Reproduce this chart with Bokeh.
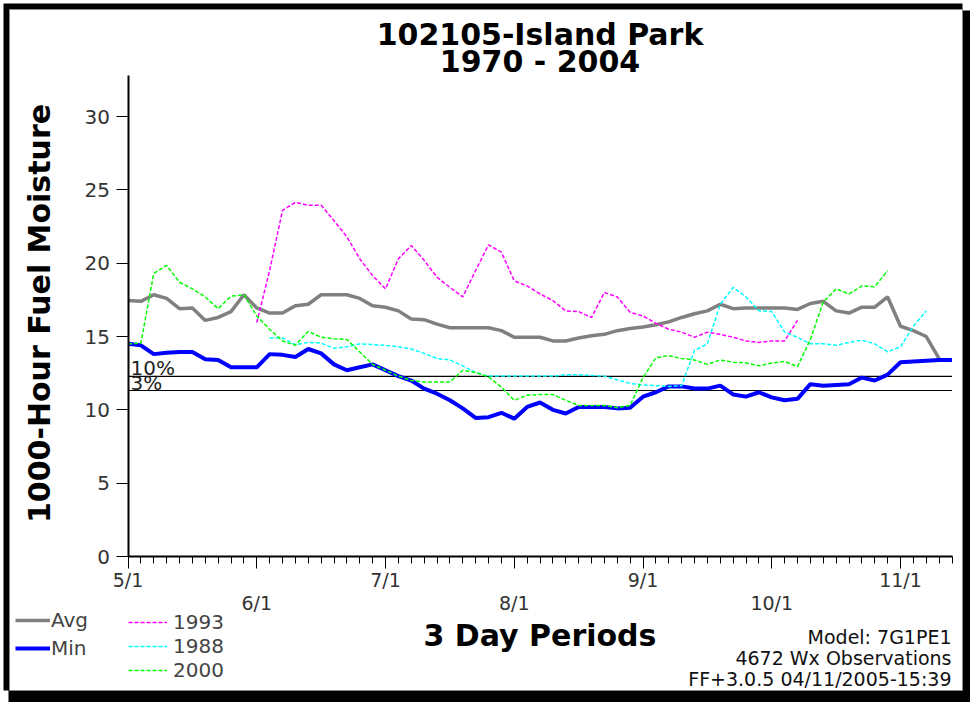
import math
from bokeh.plotting import figure
from bokeh.models import FixedTicker, LinearAxis, Label, Legend, LegendItem, BoxAnnotation
from bokeh.embed import file_html
from bokeh.resources import INLINE

# ---- data: 3-day periods starting 5/1 ----
periods = list(range(0, 65))
month_ticks = [0, 10, 20, 30, 40, 50, 60]
month_labels = ["5/1", "6/1", "7/1", "8/1", "9/1", "10/1", "11/1"]
y_ticks = [0, 5, 10, 15, 20, 25, 30]

avg = [17.45, 17.4, 17.85, 17.6, 16.9, 16.95, 16.1, 16.3, 16.7, 17.85,
       16.95, 16.6, 16.6, 17.1, 17.2, 17.85, 17.85, 17.85, 17.6, 17.1,
       17.0, 16.75, 16.2, 16.15, 15.85, 15.6, 15.6, 15.6, 15.6, 15.4,
       14.95, 14.95, 14.95, 14.7, 14.7, 14.9, 15.05, 15.15, 15.4, 15.55,
       15.65, 15.8, 16.0, 16.3, 16.55, 16.75, 17.2, 16.9, 16.95, 16.95,
       16.95, 16.95, 16.85, 17.25, 17.4, 16.75, 16.6, 17.0, 17.0, 17.7,
       15.7, 15.4, 15.0, 13.5]
avg_start = 0

minimum = [14.5, 14.4, 13.8, 13.9, 13.95, 13.95, 13.45, 13.4, 12.9, 12.9,
           12.9, 13.8, 13.75, 13.6, 14.15, 13.85, 13.1, 12.7, 12.9, 13.1,
           12.7, 12.3, 12.0, 11.45, 11.1, 10.65, 10.1, 9.45, 9.5, 9.8,
           9.4, 10.2, 10.5, 10.0, 9.75, 10.2, 10.2, 10.2, 10.1, 10.15,
           10.9, 11.2, 11.6, 11.6, 11.45, 11.45, 11.65, 11.05, 10.9, 11.2,
           10.85, 10.65, 10.75, 11.75, 11.65, 11.7, 11.75, 12.2, 12.0, 12.4,
           13.25, 13.3, 13.35, 13.4, 13.4]
min_start = 0

y1993 = [15.95, 19.5, 23.6, 24.15, 23.95, 23.95, 22.9, 21.8, 20.3, 19.15,
         18.25, 20.3, 21.2, 20.2, 19.05, 18.35, 17.7, 19.5, 21.25, 20.75,
         18.8, 18.45, 17.9, 17.45, 16.75, 16.7, 16.3, 18.0, 17.7, 16.65,
         16.4, 15.9, 15.5, 15.3, 14.95, 15.3, 15.15, 14.95, 14.7, 14.6,
         14.7, 14.7, 16.1]
y1993_start = 10

y1988 = [14.9, 14.9, 14.45, 14.6, 14.55, 14.2, 14.3, 14.5, 14.45, 14.4,
         14.3, 14.15, 13.85, 13.5, 13.4, 13.0, 12.55, 12.3, 12.3, 12.3,
         12.3, 12.3, 12.3, 12.4, 12.4, 12.35, 12.3, 12.05, 11.8, 11.7,
         11.65, 11.6, 11.65, 14.05, 14.5, 17.2, 18.35, 17.7, 16.75, 16.7,
         15.3, 14.95, 14.5, 14.5, 14.4, 14.6, 14.75, 14.5, 13.95, 14.3,
         15.7, 16.75]
y1988_start = 11

y2000 = [14.5, 14.55, 19.3, 19.85, 18.7, 18.25, 17.7, 16.9, 17.75, 17.85,
         16.4, 15.5, 14.7, 14.4, 15.35, 14.95, 14.85, 14.8, 13.95, 13.1,
         12.7, 12.3, 12.0, 11.9, 11.9, 11.9, 12.7, 12.55, 12.25, 11.55,
         10.65, 11.0, 11.05, 11.05, 10.65, 10.3, 10.3, 10.3, 10.15, 10.3,
         12.2, 13.55, 13.7, 13.5, 13.4, 13.1, 13.4, 13.25, 13.2, 13.0,
         13.2, 13.3, 12.95, 14.8, 17.35, 18.25, 17.9, 18.45, 18.4, 19.5]
y2000_start = 0

pct10 = 12.28
pct3 = 11.32

REG = "DejaVu Sans"
BOLD = "DejaVu Sans"

# ---- layout geometry (pixels) ----
W, H = 970, 702
AX_LEFT, AX_BOTTOM = 127.5, 556.0     # pixel position of (0, 0)
PX_PER_PERIOD = 12.875
PX_PER_UNIT = 14.665
BASE_FIX = 0.37                       # empirical baseline correction (fraction of font size)

x_start = -AX_LEFT / PX_PER_PERIOD
x_end = x_start + W / PX_PER_PERIOD
y_start = -(H - AX_BOTTOM) / PX_PER_UNIT
y_end = AX_BOTTOM / PX_PER_UNIT

def px2x(px):
    return x_start + px / PX_PER_PERIOD

def py2y(py):
    return y_end - py / PX_PER_UNIT

p = figure(width=W, height=H, x_range=(x_start, x_end), y_range=(y_start, y_end),
           output_backend="svg", toolbar_location=None,
           min_border_left=0, min_border_right=0, min_border_top=0, min_border_bottom=0,
           outline_line_color=None, background_fill_color="white", border_fill_color="white")
p.xgrid.visible = False
p.ygrid.visible = False

# frame of the picture (black border with shadow)
def box(l, r, t, b, fill, line=None):
    return BoxAnnotation(left=px2x(l), right=px2x(r), top=py2y(t), bottom=py2y(b),
                         fill_color=fill, fill_alpha=1.0,
                         line_color=line if line else fill, line_alpha=1.0 if line else 0.0,
                         line_width=1, level="underlay")

p.add_layout(box(3, 962, 3, 690, "black"))
p.add_layout(box(8, 970, 10, 702, "black"))
p.add_layout(box(9, 962, 9, 690, "white", line="#888888"))

# reference lines (10% and 3%) across the period axis
ref_x = [periods[0], periods[-1]]
p.line(ref_x, [pct10, pct10], line_color="black", line_width=1.2)
p.line(ref_x, [pct3, pct3], line_color="black", line_width=1.2)

def xs(start, vals):
    return periods[start:start + len(vals)]

r_avg = p.line(xs(avg_start, avg), avg, line_color="#808080", line_width=3.5)
r_min = p.line(xs(min_start, minimum), minimum, line_color="#0000ff", line_width=4)
r93 = p.line(xs(y1993_start, y1993), y1993, line_color="#ff00ff", line_width=1.5, line_dash="4 2")
r88 = p.line(xs(y1988_start, y1988), y1988, line_color="#00ffff", line_width=1.5, line_dash="4 2")
r00 = p.line(xs(y2000_start, y2000), y2000, line_color="#00ff00", line_width=1.5, line_dash="4 2")

# y axis (fixed at x = 0)
ya = p.yaxis[0]
ya.fixed_location = 0
ya.bounds = (0, 32.8)
ya.ticker = FixedTicker(ticks=y_ticks, minor_ticks=[])
ya.axis_line_width = 2
ya.major_tick_out = 12
ya.major_tick_in = 0
ya.minor_tick_out = 0
ya.major_label_standoff = 6
ya.major_label_text_font = REG
ya.major_label_text_font_size = "20px"
ya.major_label_text_color = "#333333"

# x axis, first row of labels (fixed at y = 0)
xa = p.xaxis[0]
xa.fixed_location = 0
xa.bounds = (0, 64)
xa.ticker = FixedTicker(ticks=month_ticks, minor_ticks=periods)
xa.major_label_overrides = {t: (lab if i % 2 == 0 else "") for i, (t, lab) in enumerate(zip(month_ticks, month_labels))}
xa.axis_line_width = 2
xa.major_tick_out = 12
xa.major_tick_in = 0
xa.minor_tick_out = 7
xa.minor_tick_in = 0
xa.major_label_standoff = 0
xa.major_label_text_font = REG
xa.major_label_text_font_size = "19px"
xa.major_label_text_color = "#333333"

# x axis, second row of labels
even_ticks = [t for i, t in enumerate(month_ticks) if i % 2 == 1]
xa2 = LinearAxis(ticker=FixedTicker(ticks=even_ticks, minor_ticks=[]),
                 fixed_location=0, bounds=(0, 64),
                 major_label_overrides={t: lab for i, (t, lab) in enumerate(zip(month_ticks, month_labels)) if i % 2 == 1},
                 axis_line_color=None, major_tick_line_color=None, minor_tick_line_color=None,
                 major_tick_out=0, major_tick_in=0, minor_tick_out=0, minor_tick_in=0,
                 major_label_standoff=35, major_label_text_font=REG,
                 major_label_text_font_size="19px", major_label_text_color="#333333")
p.add_layout(xa2, "below")

def lab(text, px, py, size, bold=False, align="left", color="black", vertical=False):
    fix = BASE_FIX * size
    if vertical:
        px, angle = px - fix, math.pi / 2
    else:
        py, angle = py - fix, 0.0
    return Label(x=px2x(px), y=py2y(py), text=text, angle=angle,
                 text_font=BOLD if bold else REG, text_font_size=f"{size}px",
                 text_font_style="bold" if bold else "normal", text_align=align,
                 text_baseline="alphabetic", text_color=color)

cx = AX_LEFT + 64 * PX_PER_PERIOD / 2
# titles
p.add_layout(lab("102105-Island Park", cx, 45, 30, bold=True, align="center"))
p.add_layout(lab("1970 - 2004", cx, 72, 30, bold=True, align="center"))
# axis titles
p.add_layout(lab("1000-Hour Fuel Moisture", 50, 313, 30, bold=True, align="center", vertical=True))
p.add_layout(lab("3 Day Periods", cx, 646, 30, bold=True, align="center"))

# threshold labels
p.add_layout(lab("10%", 130, 374.5, 20, color="#222222"))
p.add_layout(lab("3%", 130, 389.5, 20, color="#222222"))

# footer texts
p.add_layout(lab("Model: 7G1PE1", 951, 644, 19, align="right", color="#111111"))
p.add_layout(lab("4672 Wx Observations", 951, 665, 19, align="right", color="#111111"))
p.add_layout(lab("FF+3.0.5 04/11/2005-15:39", 951, 686, 19, align="right", color="#111111"))

# legends (location = bottom-left corner, pixels from frame bottom-left)
leg_a = Legend(items=[LegendItem(label="Avg", renderers=[r_avg]),
                      LegendItem(label="Min", renderers=[r_min])],
               location=(15, H - 660), orientation="vertical",
               glyph_width=35, glyph_height=20, label_standoff=1, spacing=4,
               padding=0, margin=0, label_text_font=REG, label_text_font_size="20px",
               label_height=20, background_fill_alpha=0, border_line_alpha=0)
leg_b = Legend(items=[LegendItem(label="1993", renderers=[r93]),
                      LegendItem(label="1988", renderers=[r88]),
                      LegendItem(label="2000", renderers=[r00])],
               location=(128, H - 682), orientation="vertical",
               glyph_width=39, glyph_height=20, label_standoff=6, spacing=0,
               padding=0, margin=0, label_text_font=REG, label_text_font_size="20px",
               label_height=20, background_fill_alpha=0, border_line_alpha=0)
p.add_layout(leg_a)
p.add_layout(leg_b)

open("out.html", "w").write(file_html(p, INLINE, title="102105-Island Park"))
